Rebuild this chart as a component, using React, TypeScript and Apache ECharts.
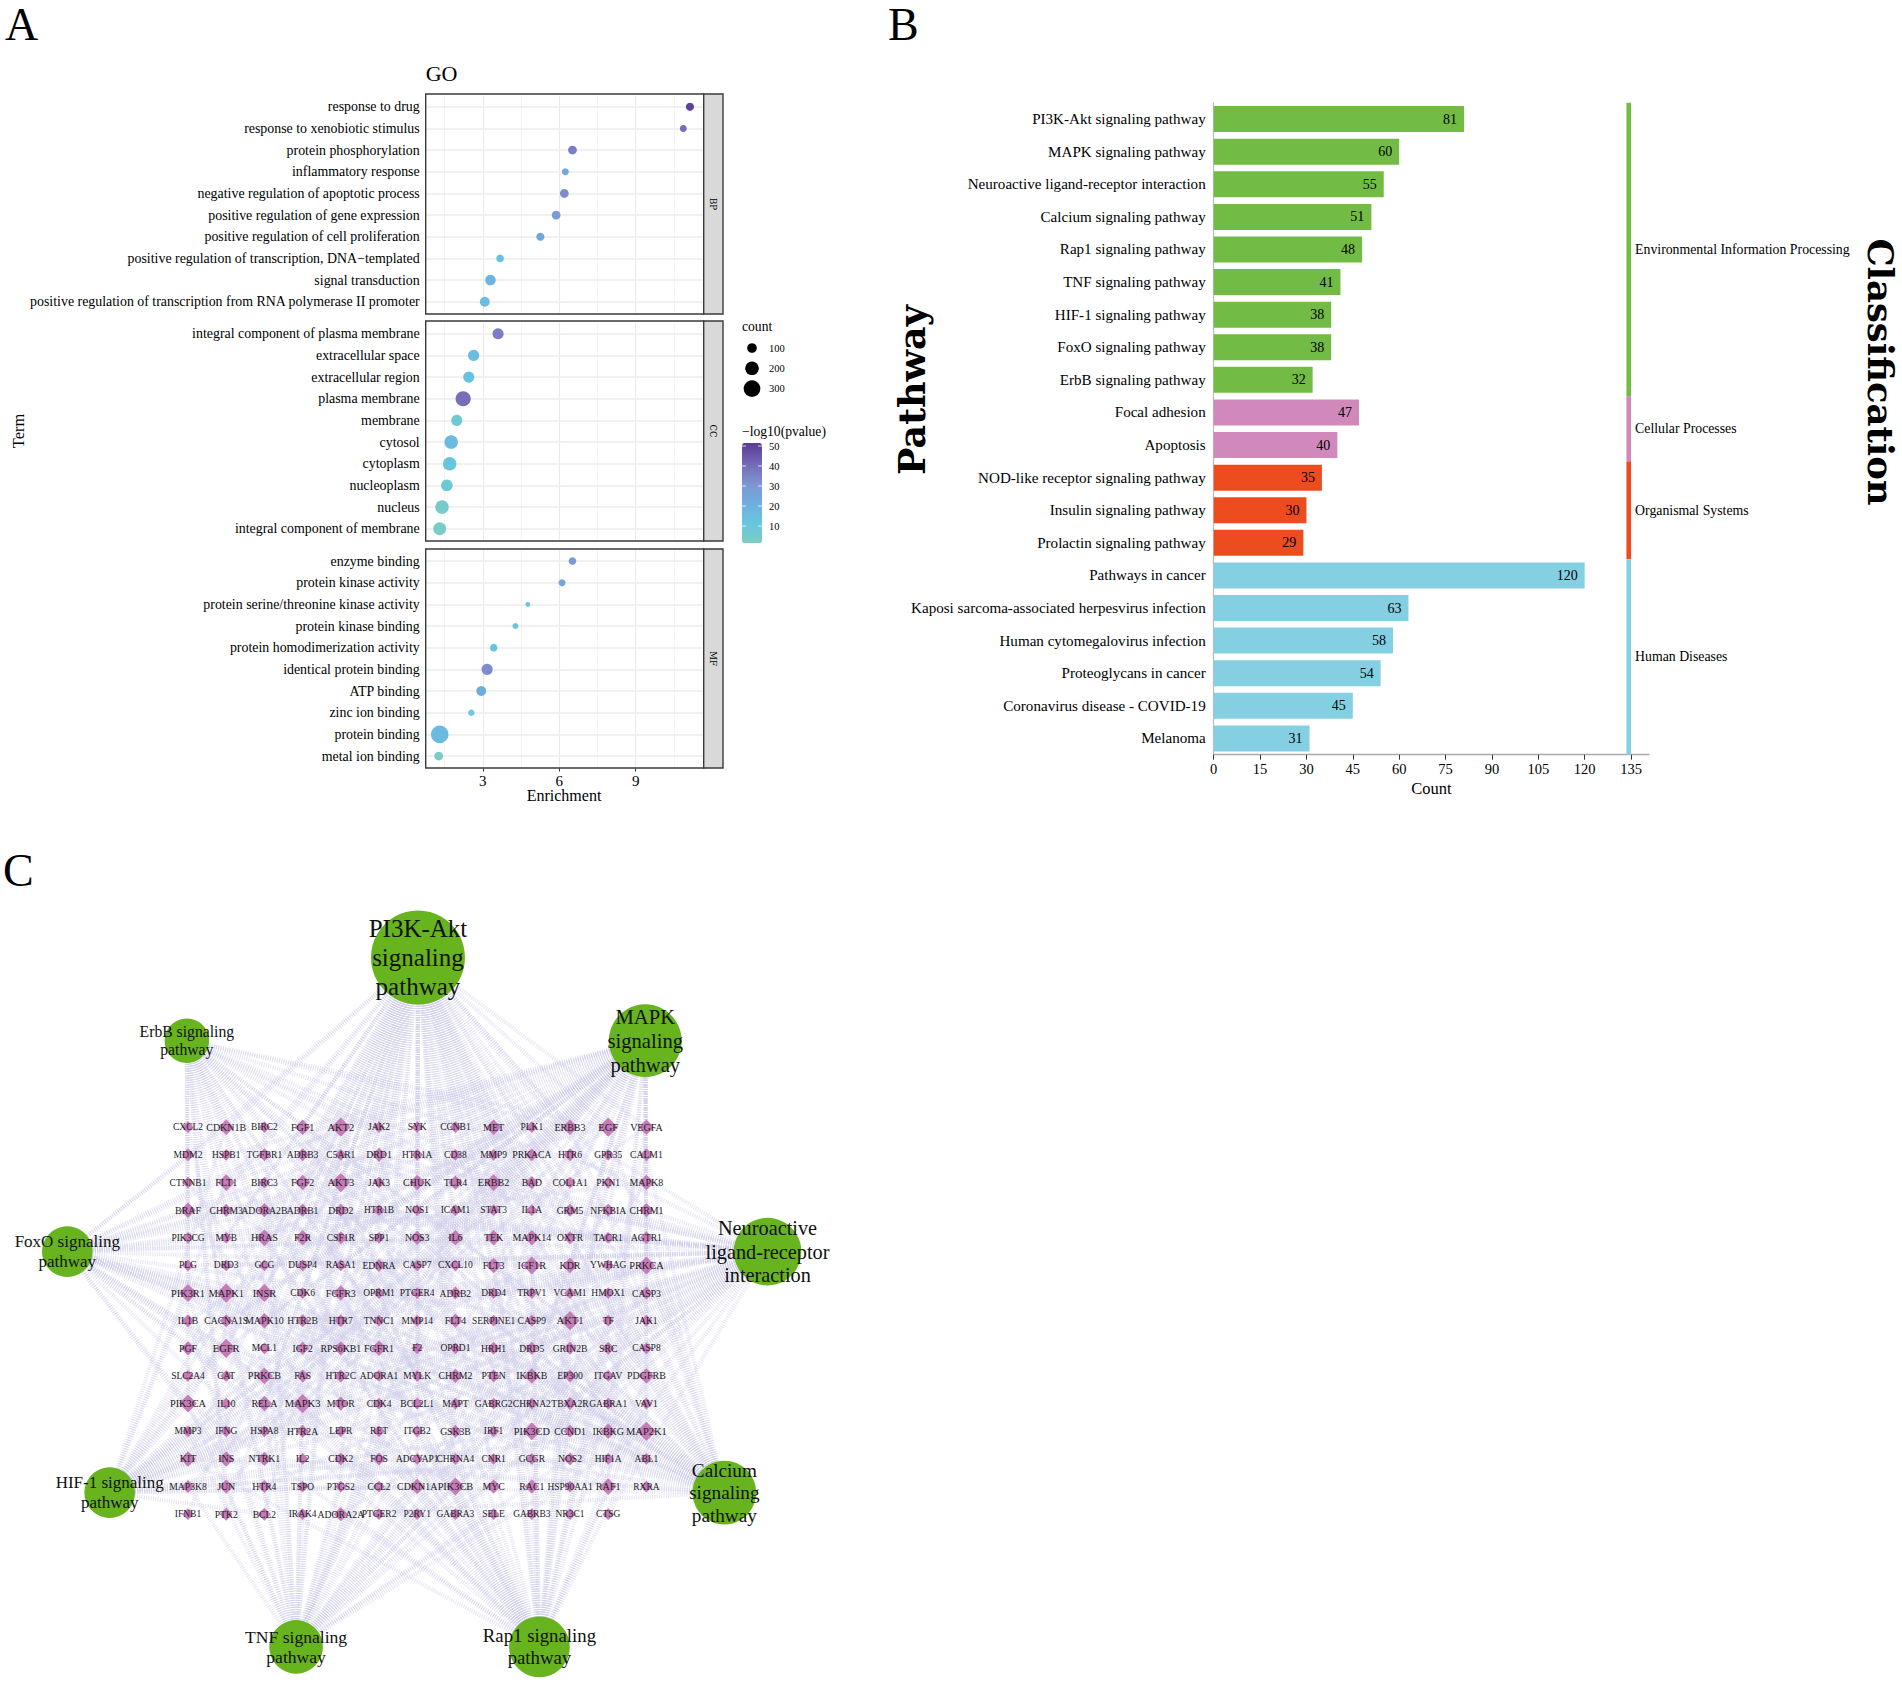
import React, { useEffect, useRef } from "react";
import * as echarts from "echarts";

const SERIF = '"Liberation Serif", "Times New Roman", serif';
const SLAB = '"DejaVu Serif", serif';

// ---------- Panel A: GO dot plot ----------
const bpTerms = ["response to drug", "response to xenobiotic stimulus", "protein phosphorylation", "inflammatory response", "negative regulation of apoptotic process", "positive regulation of gene expression", "positive regulation of cell proliferation", "positive regulation of transcription, DNA\u2212templated", "signal transduction", "positive regulation of transcription from RNA polymerase II promoter"];
const bpEnrichment = [11.13, 10.87, 6.52, 6.24, 6.2, 5.88, 5.26, 3.68, 3.3, 3.08];
const bpCount = [64, 47, 74, 47, 74, 74, 64, 56, 107, 95];
const bpLogP = [50, 40, 36, 25, 33, 29, 24, 13, 19, 15];

const ccTerms = ["integral component of plasma membrane", "extracellular space", "extracellular region", "plasma membrane", "membrane", "cytosol", "cytoplasm", "nucleoplasm", "nucleus", "integral component of membrane"];
const ccEnrichment = [3.6, 2.64, 2.45, 2.23, 1.98, 1.76, 1.7, 1.59, 1.4, 1.31];
const ccCount = [119, 119, 120, 222, 119, 175, 175, 132, 175, 160];
const ccLogP = [36, 15, 13, 40, 7, 16, 11, 8, 4, 3];

const mfTerms = ["enzyme binding", "protein kinase activity", "protein serine/threonine kinase activity", "protein kinase binding", "protein homodimerization activity", "identical protein binding", "ATP binding", "zinc ion binding", "protein binding", "metal ion binding"];
const mfEnrichment = [6.52, 6.11, 4.77, 4.28, 3.43, 3.17, 2.94, 2.55, 1.31, 1.27];
const mfCount = [56, 47, 21, 33, 56, 119, 95, 40, 296, 74];
const mfLogP = [28, 24, 11, 11, 11, 33, 22, 7, 16, 3];

const goMajorTicks = [3, 6, 9];
const goMinorTicks = [1.5, 4.5, 7.5, 10.5];
const sizeLegend = [100, 200, 300];
const colorLegend = [50, 40, 30, 20, 10];

// ---------- Panel B: KEGG bars ----------
const pathways = ["PI3K-Akt signaling pathway", "MAPK signaling pathway", "Neuroactive ligand-receptor interaction", "Calcium signaling pathway", "Rap1 signaling pathway", "TNF signaling pathway", "HIF-1 signaling pathway", "FoxO signaling pathway", "ErbB signaling pathway", "Focal adhesion", "Apoptosis", "NOD-like receptor signaling pathway", "Insulin signaling pathway", "Prolactin signaling pathway", "Pathways in cancer", "Kaposi sarcoma-associated herpesvirus infection", "Human cytomegalovirus infection", "Proteoglycans in cancer", "Coronavirus disease - COVID-19", "Melanoma"];
const pathwayCounts = [81, 60, 55, 51, 48, 41, 38, 38, 32, 47, 40, 35, 30, 29, 120, 63, 58, 54, 45, 31];
const classNames = ["Environmental Information Processing", "Cellular Processes", "Organismal Systems", "Human Diseases"];
const classFirst = [0, 9, 11, 14];
const classLast = [8, 10, 13, 19];
const classColors = ["#72bb45", "#d089ba", "#ec4c1e", "#85cfe3"];

// ---------- Panel C: network ----------
const geneRows = [
  ["CXCL2", "CDKN1B", "BIRC2", "FGF1", "AKT2", "JAK2", "SYK", "CCNB1", "MET", "PLK1", "ERBB3", "EGF", "VEGFA"],
  ["MDM2", "HSPB1", "TGFBR1", "ADRB3", "C5AR1", "DRD1", "HTR1A", "CD38", "MMP9", "PRKACA", "HTR6", "GPR35", "CALM1"],
  ["CTNNB1", "FLT1", "BIRC3", "FGF2", "AKT3", "JAK3", "CHUK", "TLR4", "ERBB2", "BAD", "COL1A1", "PKN1", "MAPK8"],
  ["BRAF", "CHRM3", "ADORA2B", "ADRB1", "DRD2", "HTR1B", "NOS1", "ICAM1", "STAT3", "IL1A", "GRM5", "NFKBIA", "CHRM1"],
  ["PIK3CG", "MYB", "HRAS", "F2R", "CSF1R", "SPP1", "NOS3", "IL6", "TEK", "MAPK14", "OXTR", "TACR1", "AGTR1"],
  ["PLG", "DRD3", "GCG", "DUSP4", "RASA1", "EDNRA", "CASP7", "CXCL10", "FLT3", "IGF1R", "KDR", "YWHAG", "PRKCA"],
  ["PIK3R1", "MAPK1", "INSR", "CDK6", "FGFR3", "OPRM1", "PTGER4", "ADRB2", "DRD4", "TRPV1", "VCAM1", "HMOX1", "CASP3"],
  ["IL1B", "CACNA1S", "MAPK10", "HTR2B", "HTR7", "TNNC1", "MMP14", "FLT4", "SERPINE1", "CASP9", "AKT1", "TF", "JAK1"],
  ["PGF", "EGFR", "MCL1", "IGF2", "RPS6KB1", "FGFR1", "F2", "OPRD1", "HRH1", "DRD5", "GRIN2B", "SRC", "CASP8"],
  ["SLC2A4", "CAT", "PRKCB", "FAS", "HTR2C", "ADORA1", "MYLK", "CHRM2", "PTEN", "IKBKB", "EP300", "ITGAV", "PDGFRB"],
  ["PIK3CA", "IL10", "RELA", "MAPK3", "MTOR", "CDK4", "BCL2L1", "MAPT", "GABRG2", "CHRNA2", "TBXA2R", "GABRA1", "VAV1"],
  ["MMP3", "IFNG", "HSPA8", "HTR2A", "LEPR", "RET", "ITGB2", "GSK3B", "IRF1", "PIK3CD", "CCND1", "IKBKG", "MAP2K1"],
  ["KIT", "INS", "NTRK1", "IL2", "CDK2", "FOS", "ADCYAP1", "CHRNA4", "CNR1", "GCGR", "NOS2", "HIF1A", "ABL1"],
  ["MAP3K8", "JUN", "HTR4", "TSPO", "PTGS2", "CCL2", "CDKN1A", "PIK3CB", "MYC", "RAC1", "HSP90AA1", "RAF1", "RXRA"],
  ["IFNB1", "PTK2", "BCL2", "IRAK4", "ADORA2A", "PTGER2", "P2RY1", "GABRA3", "SELE", "GABRB3", "NR3C1", "CTSG"],
];

const hubNames = ["PI3K-Akt signaling pathway", "MAPK signaling pathway", "Neuroactive ligand-receptor interaction", "Calcium signaling pathway", "Rap1 signaling pathway", "TNF signaling pathway", "HIF-1 signaling pathway", "FoxO signaling pathway", "ErbB signaling pathway"];
const hubLabels = ["PI3K-Akt\nsignaling\npathway", "MAPK\nsignaling\npathway", "Neuroactive\nligand-receptor\ninteraction", "Calcium\nsignaling\npathway", "Rap1 signaling\npathway", "TNF signaling\npathway", "HIF-1 signaling\npathway", "FoxO signaling\npathway", "ErbB signaling\npathway"];
const hubCounts = [81, 60, 55, 51, 48, 41, 38, 38, 32];
// hub positions in units of the gene grid (column, row)
const hubCol = [6.02, 11.97, 15.17, 14.04, 9.2, 2.83, -2.05, -3.16, -0.03];
const hubRow = [-6.14, -3.13, 4.5, 13.22, 18.8, 18.8, 13.22, 4.5, -3.13];
const hubFont = [25, 20.6, 20.3, 19.2, 18.8, 17.6, 17, 17, 15.7];

const pi3kGenes = ["CDKN1B", "FGF1", "AKT2", "JAK2", "SYK", "MET", "ERBB3", "EGF", "VEGFA", "MDM2", "FLT1", "FGF2", "AKT3", "JAK3", "CHUK", "TLR4", "ERBB2", "BAD", "COL1A1", "PKN1", "CHRM1", "PIK3CG", "MYB", "HRAS", "F2R", "CSF1R", "SPP1", "NOS3", "IL6", "TEK", "FLT3", "IGF1R", "KDR", "YWHAG", "PRKCA", "PIK3R1", "MAPK1", "INSR", "CDK6", "FGFR3", "CASP9", "AKT1", "JAK1", "PGF", "EGFR", "MCL1", "IGF2", "RPS6KB1", "FGFR1", "IFNB1", "PDGFRB", "PIK3CA", "RELA", "MAPK3", "MTOR", "CDK4", "BCL2L1", "IKBKB", "RXRA", "ITGAV", "PTEN", "MAP2K1", "PIK3CD", "CCND1", "IKBKG", "KIT", "INS", "NTRK1", "IL2", "CDK2", "GSK3B", "FLT4", "CHRM2", "HSP90AA1", "RAF1", "RAC1", "MYC", "PIK3CB", "CDKN1A", "BCL2", "PTK2"];
const mapkGenes = ["FGF1", "AKT2", "MET", "ERBB3", "EGF", "VEGFA", "HSPB1", "TGFBR1", "FLT1", "FGF2", "AKT3", "CHUK", "TLR4", "ERBB2", "MAPK8", "IL1A", "NFKBIA", "BRAF", "HRAS", "CSF1R", "MAPK14", "FLT3", "IGF1R", "KDR", "PRKCA", "CASP3", "CACNA1S", "MAPK10", "FGFR3", "AKT1", "IL1B", "PGF", "EGFR", "IGF2", "FGFR1", "PDGFRB", "RELA", "MAPK3", "PRKCB", "FAS", "IKBKB", "MAP2K1", "KIT", "INS", "NTRK1", "IKBKG", "MAP3K8", "JUN", "FOS", "MYC", "RAC1", "RAF1", "PRKACA", "MAPK1", "HSPA8", "RASA1", "DUSP4", "INSR", "TEK", "MAPT"];
const neuroGenes = ["HTR1A", "HTR1B", "HTR2A", "HTR2B", "HTR2C", "HTR4", "HTR6", "HTR7", "DRD1", "DRD2", "DRD3", "DRD4", "DRD5", "ADRB1", "ADRB2", "ADRB3", "ADORA1", "ADORA2A", "ADORA2B", "CHRM1", "CHRM2", "CHRM3", "CHRNA2", "CHRNA4", "GABRA1", "GABRA3", "GABRB3", "GABRG2", "GRIN2B", "GRM5", "HRH1", "OPRM1", "OPRD1", "OXTR", "TACR1", "AGTR1", "EDNRA", "F2R", "F2", "C5AR1", "CNR1", "GCGR", "GCG", "LEPR", "PTGER2", "PTGER4", "TBXA2R", "P2RY1", "TRPV1", "ADCYAP1", "TSPO", "GPR35", "NR3C1", "PLG", "CTSG"];
const calciumGenes = ["ADRB1", "ADRB2", "ADRB3", "ADORA2A", "ADORA2B", "AGTR1", "CACNA1S", "CALM1", "CD38", "CHRM1", "CHRM2", "CHRM3", "DRD1", "DRD5", "EDNRA", "EGF", "EGFR", "ERBB2", "ERBB3", "F2R", "FGF1", "FGF2", "FGFR1", "FGFR3", "FLT1", "FLT3", "FLT4", "GRM5", "HRH1", "HTR2A", "HTR2B", "HTR2C", "HTR4", "HTR6", "HTR7", "IGF1R", "INSR", "KDR", "KIT", "MET", "MYLK", "NOS1", "NOS2", "NOS3", "NTRK1", "OXTR", "PDGFRB", "TNNC1", "PRKACA", "PRKCA", "PRKCB"];
const rap1Genes = ["AKT1", "AKT2", "AKT3", "BRAF", "ADORA2A", "ADORA2B", "CALM1", "CTNNB1", "DRD1", "DRD2", "EGF", "EGFR", "F2R", "FGF1", "FGF2", "FGFR1", "FGFR3", "FLT1", "FLT3", "FLT4", "GRIN2B", "HRAS", "IGF1R", "INSR", "ITGB2", "KDR", "KIT", "MAP2K1", "MAPK1", "MAPK14", "MAPK3", "MET", "PDGFRB", "PGF", "PIK3CA", "PIK3CB", "PIK3CD", "PIK3R1", "PRKCA", "PRKCB", "RAC1", "RAF1", "TEK", "VEGFA", "RET", "TBXA2R", "SRC", "VAV1"];
const tnfGenes = ["AKT1", "AKT2", "AKT3", "CASP3", "CASP7", "CASP8", "CCL2", "CHUK", "CXCL10", "FAS", "ICAM1", "IKBKB", "IKBKG", "IL1B", "IL6", "IRF1", "JUN", "FOS", "MAP2K1", "MAP3K8", "MAPK1", "MAPK3", "MAPK8", "MAPK10", "MAPK14", "MMP3", "MMP9", "MMP14", "NFKBIA", "PIK3CA", "PIK3CB", "PIK3CD", "PIK3R1", "PTGS2", "RELA", "SELE", "VCAM1", "CXCL2", "BIRC2", "BIRC3", "IRAK4"];
const hifGenes = ["AKT1", "AKT2", "AKT3", "BCL2", "CDKN1A", "CDKN1B", "EGF", "EGFR", "EP300", "ERBB2", "FLT1", "HIF1A", "HMOX1", "IFNG", "IGF1R", "IL6", "INS", "INSR", "MAP2K1", "MAPK1", "MAPK3", "MTOR", "NOS2", "NOS3", "PIK3CA", "PIK3CB", "PIK3CD", "PIK3R1", "PRKCA", "PRKCB", "RELA", "RPS6KB1", "SERPINE1", "TF", "TLR4", "VEGFA", "SLC2A4", "TEK"];
const foxoGenes = ["AKT1", "AKT2", "AKT3", "BRAF", "CCND1", "CDK2", "CDKN1A", "CDKN1B", "CHUK", "EGF", "EGFR", "EP300", "HRAS", "IGF1R", "IKBKB", "IKBKG", "IL6", "INS", "INSR", "MAP2K1", "MAPK1", "MAPK3", "MAPK8", "MAPK10", "MAPK14", "MDM2", "PIK3CA", "PIK3CB", "PIK3CD", "PIK3R1", "PLK1", "PTEN", "RAF1", "TGFBR1", "CAT", "STAT3", "IL10", "CCNB1"];
const erbbGenes = ["ABL1", "AKT1", "AKT2", "AKT3", "BAD", "BRAF", "CDKN1A", "CDKN1B", "ERBB2", "ERBB3", "EGF", "EGFR", "GSK3B", "HRAS", "JUN", "MAP2K1", "MAPK1", "MAPK3", "MAPK8", "MAPK10", "MTOR", "MYC", "PIK3CA", "PIK3CB", "PIK3CD", "PIK3R1", "PRKCA", "PRKCB", "PTK2", "RAF1", "RPS6KB1", "SRC"];
const hubMembers = [pi3kGenes, mapkGenes, neuroGenes, calciumGenes, rap1Genes, tnfGenes, hifGenes, foxoGenes, erbbGenes];

const goPanels = [
  { terms: bpTerms, x: bpEnrichment, count: bpCount, p: bpLogP, strip: "BP", top: 95.9, boxTop: 94, boxBottom: 314 },
  { terms: ccTerms, x: ccEnrichment, count: ccCount, p: ccLogP, strip: "CC", top: 322.9, boxTop: 321, boxBottom: 541 },
  { terms: mfTerms, x: mfEnrichment, count: mfCount, p: mfLogP, strip: "MF", top: 550.2, boxTop: 549, boxBottom: 768 },
];

function dotSize(count: number) {
  return Math.sqrt(count) * 1.02;
}

function buildOption() {
  const grid: any[] = [];
  const xAxis: any[] = [];
  const yAxis: any[] = [];
  const series: any[] = [];
  const graphic: any[] = [];

  const txt = (text: string, x: number, y: number, fontSize: number, extra: any = {}, style: any = {}) => ({
    type: "text", x, y, z: 50, silent: true, ...extra,
    style: { text, fontSize, fontFamily: SERIF, fill: "#000", align: "left", verticalAlign: "middle", ...style },
  });

  // Panel A
  goPanels.forEach((panel, i) => {
    grid.push({ left: 425.7, width: 278, top: panel.top, height: 216.7 });
    const isLast = i === goPanels.length - 1;
    xAxis.push({
      type: "value", gridIndex: i, min: 0.76, max: 11.67,
      splitLine: { show: false }, axisLine: { show: false },
      axisTick: { show: isLast, length: 3, customValues: goMajorTicks, lineStyle: { color: "#333", width: 1 } },
      axisLabel: { show: isLast, customValues: goMajorTicks, fontFamily: SERIF, fontSize: 15, color: "#000", margin: 5 },
      offset: isLast ? 1.6 : 0,
    });
    yAxis.push({
      type: "category", gridIndex: i, data: panel.terms, inverse: true,
      axisLine: { show: false }, splitLine: { show: false },
      axisTick: { length: 3, alignWithLabel: true, lineStyle: { color: "#333", width: 1 } },
      axisLabel: { fontFamily: SERIF, fontSize: 13.9, color: "#000", margin: 6, interval: 0 },
    });
    series.push({
      type: "scatter", xAxisIndex: i, yAxisIndex: i, z: 3,
      data: panel.terms.map((_, k) => [panel.x[k], k, panel.p[k], panel.count[k]]),
      symbolSize: (v: number[]) => dotSize(v[3]),
      itemStyle: { opacity: 1 },
      markLine: {
        silent: true, z: 1, symbol: ["none", "none"], animation: false, label: { show: false },
        data: [
          ...goMinorTicks.map((v) => ({ xAxis: v, lineStyle: { color: "#f1f1f1", width: 0.8, type: "solid" } })),
          ...goMajorTicks.map((v) => ({ xAxis: v, lineStyle: { color: "#e9e9e9", width: 1.1, type: "solid" } })),
          ...panel.terms.map((t, k) => ({ yAxis: k, lineStyle: { color: "#ececec", width: 1.5, type: "solid" } })),
        ],
      },
    });
    graphic.push({
      type: "rect", z: 40, silent: true,
      shape: { x: 425.7, y: panel.boxTop, width: 278, height: panel.boxBottom - panel.boxTop },
      style: { fill: "none", stroke: "#3a3a3a", lineWidth: 1.4 },
    });
    graphic.push({
      type: "rect", z: 40, silent: true,
      shape: { x: 703.7, y: panel.boxTop, width: 19.3, height: panel.boxBottom - panel.boxTop },
      style: { fill: "#d9d9d9", stroke: "#3a3a3a", lineWidth: 1.4 },
    });
    graphic.push(txt(panel.strip, 713, (panel.boxTop + panel.boxBottom) / 2, 8.5, { rotation: -Math.PI / 2 }, { align: "center", fontFamily: SLAB }));
  });

  graphic.push(txt("A", 5, 24, 46));
  graphic.push(txt("B", 888, 24, 46));
  graphic.push(txt("C", 3, 870, 46));
  graphic.push(txt("GO", 425.7, 73, 22));
  graphic.push(txt("Term", 18, 431, 16.5, { rotation: Math.PI / 2 }, { align: "center" }));
  graphic.push(txt("Enrichment", 564, 795, 16, {}, { align: "center" }));
  graphic.push(txt("count", 742, 326, 13.6));
  sizeLegend.forEach((c, i) => {
    const y = 348 + i * 20.3;
    graphic.push({ type: "circle", silent: true, z: 50, shape: { cx: 752, cy: y, r: (Math.sqrt(c) * 0.96) / 2 }, style: { fill: "#000" } });
    graphic.push(txt(String(c), 769, y, 10.5));
  });
  graphic.push(txt("\u2212log10(pvalue)", 742, 431, 13.6));
  colorLegend.forEach((c, i) => {
    const y = 446 + i * 20;
    graphic.push(txt(String(c), 769, y, 10.5));
    graphic.push({ type: "line", silent: true, z: 50, shape: { x1: 742, y1: y, x2: 746, y2: y }, style: { stroke: "#fff", lineWidth: 0.8 } });
    graphic.push({ type: "line", silent: true, z: 50, shape: { x1: 758, y1: y, x2: 762, y2: y }, style: { stroke: "#fff", lineWidth: 0.8 } });
  });

  // Panel B
  const b = grid.length;
  grid.push({ left: 1213.7, width: 435.3, top: 102.8, height: 651.9 });
  xAxis.push({
    type: "value", gridIndex: b, min: 0, max: 140.8, interval: 15,
    splitLine: { show: false },
    axisLine: { show: true, lineStyle: { color: "#aaa", width: 1.4 } },
    axisTick: { show: true, length: 5, lineStyle: { color: "#333" } },
    axisLabel: { fontFamily: SERIF, fontSize: 14.5, color: "#000", margin: 7 },
    name: "Count", nameLocation: "middle", nameGap: 25,
    nameTextStyle: { fontFamily: SERIF, fontSize: 16.5, color: "#000" },
  });
  yAxis.push({
    type: "category", gridIndex: b, data: pathways, inverse: true,
    axisLine: { show: true, lineStyle: { color: "#bbb", width: 1.2 } }, splitLine: { show: false },
    axisTick: { length: 4, alignWithLabel: true, lineStyle: { color: "#333" } },
    axisLabel: { fontFamily: SERIF, fontSize: 15.1, color: "#000", margin: 8, interval: 0 },
  });
  series.push({
    type: "bar", xAxisIndex: b, yAxisIndex: b, barWidth: 26,
    data: pathwayCounts.map((v, i) => ({
      value: v,
      itemStyle: { color: classColors[classFirst.findIndex((f, c) => i >= f && i <= classLast[c])] },
    })),
    label: { show: true, position: "insideRight", distance: 7, fontFamily: SERIF, fontSize: 14, color: "#000" },
  });
  series.push({
    type: "custom", xAxisIndex: b, yAxisIndex: b, z: 4,
    data: classFirst.map((f, i) => [133.5, f, classLast[i], 135]),
    encode: { x: [0, 3], y: [1, 2] },
    renderItem: (params: any, api: any) => {
      const band = api.size([0, 1])[1];
      const a = api.coord([api.value(0), api.value(1)]);
      const c = api.coord([api.value(3), api.value(2)]);
      const top = a[1] - band / 2;
      const bottom = c[1] + band / 2;
      return {
        type: "group",
        children: [
          { type: "rect", shape: { x: a[0], y: top, width: c[0] - a[0], height: bottom - top }, style: { fill: classColors[params.dataIndex] } },
          { type: "text", x: c[0] + 4, y: (top + bottom) / 2, style: { text: classNames[params.dataIndex], fontFamily: SERIF, fontSize: 13.8, fill: "#000", align: "left", verticalAlign: "middle" } },
        ],
      };
    },
  });
  graphic.push(txt("Pathway", 912, 390, 36.5, { rotation: Math.PI / 2 }, { align: "center", fontFamily: SLAB, fontWeight: "bold" }));
  graphic.push(txt("Classification", 1880, 372, 35.4, { rotation: -Math.PI / 2 }, { align: "center", fontFamily: SLAB, fontWeight: "bold" }));

  // Panel C
  const c = grid.length;
  grid.push({ left: 16.1, width: 821.3, top: 906.1, height: 760.1 });
  xAxis.push({ type: "value", gridIndex: c, min: -4.5, max: 17, show: false });
  yAxis.push({ type: "value", gridIndex: c, min: -8, max: 19.5, inverse: true, show: false });

  const degree = (g: string) => hubMembers.filter((m) => m.includes(g)).length;
  const geneNodes = geneRows.flatMap((row, r) =>
    row.map((g, col) => {
      const d = Math.max(1, degree(g));
      return {
        name: g, value: [col, r], symbol: "diamond", symbolSize: 10.5 + d * 1.25,
        itemStyle: { color: "#c67cb8" },
        label: { show: true, position: "inside", formatter: g, fontSize: 9.3 + d * 0.17, fontFamily: SERIF, color: "#222" },
      };
    })
  );
  const hubNodes = hubNames.map((h, i) => ({
    name: h, value: [hubCol[i], hubRow[i]], symbol: "circle", symbolSize: 12.2 + hubCounts[i] * 1.01,
    itemStyle: { color: "#68b41e" },
    label: { show: true, position: "inside", formatter: hubLabels[i], fontSize: hubFont[i], lineHeight: hubFont[i] * 1.17, fontFamily: SERIF, color: "#111", align: "center" },
  }));
  const allGenes = new Set(geneRows.flat());
  const links = hubMembers.flatMap((members, i) =>
    members.filter((g) => allGenes.has(g)).map((g) => ({ source: hubNames[i], target: g }))
  );
  series.push({
    type: "graph", coordinateSystem: "cartesian2d", xAxisIndex: c, yAxisIndex: c, layout: "none",
    silent: true, z: 2, edgeSymbol: ["none", "none"],
    data: [...hubNodes, ...geneNodes],
    links,
    lineStyle: { color: "#cfcee9", width: 4, opacity: 0.55, curveness: 0, type: [1, 1.3] },
    emphasis: { disabled: true },
  });

  return {
    animation: false,
    backgroundColor: "#fff",
    grid, xAxis, yAxis, series, graphic,
    visualMap: {
      type: "continuous", seriesIndex: [0, 1, 2], dimension: 2,
      min: 1.5, max: 51.5, left: 742, top: 443, itemWidth: 20, itemHeight: 100, padding: 0,
      calculable: false, hoverLink: false,
      inRange: { color: ["#7ccdc4", "#66c6df", "#6faee0", "#7f93d0", "#7467b5", "#5a3a98"] },
    },
  };
}

export default function App() {
  const ref = useRef<HTMLDivElement>(null);
  useEffect(() => {
    document.body.style.margin = "0";
    const chart = echarts.init(ref.current!, undefined, { renderer: "svg" });
    chart.setOption(buildOption() as any);
    return () => chart.dispose();
  }, []);
  return <div ref={ref} style={{ position: "absolute", left: 0, top: 0, width: 1902, height: 1684 }} />;
}
